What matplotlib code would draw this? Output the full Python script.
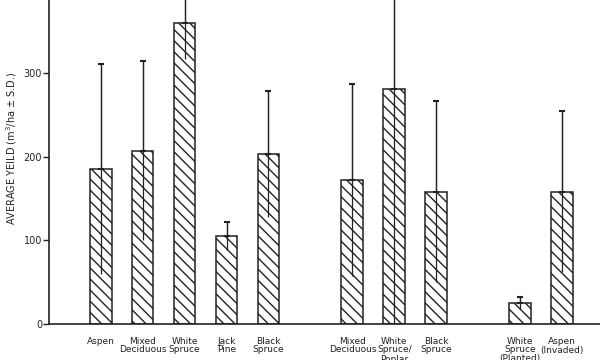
import matplotlib
matplotlib.use('Agg')
from matplotlib import pyplot as plt
import numpy as np

# positions of the bars along the axis (gaps between stand groups)
positions = [0, 1, 2, 3, 4, 6, 7, 8, 10, 11]
labels = ['Aspen', 'Mixed\nDeciduous', 'White\nSpruce', 'Jack\nPine', 'Black\nSpruce',
          'Mixed\nDeciduous', 'White\nSpruce/\nPoplar', 'Black\nSpruce',
          'White\nSpruce\n(Planted)', 'Aspen\n(Invaded)']
yields = [185, 207, 360, 105, 203, 172, 281, 158, 25, 158]
sd = [125, 107, 43, 17, 75, 115, 280, 108, 7, 96]

INK = '#222222'
YLABEL = 'AVERAGE YEILD (m$^3$/ha $\\pm$ S.D.)'

plt.rcParams['hatch.linewidth'] = 1.0
plt.rcParams['hatch.color'] = INK

fig = plt.figure(figsize=(6, 3.6), dpi=100)
ax = fig.add_axes([49 / 600, 36 / 360, 1 - 49 / 600, 1 - 36 / 360])

ax.bar(positions, yields, width=0.52, color='white', edgecolor=INK,
       linewidth=1.1, hatch='\\\\\\', zorder=2)

# full error line without caps, then the upper half again to get the top cap
ax.errorbar(positions, yields, yerr=sd, fmt='none', ecolor=INK,
            elinewidth=0.9, capsize=0, zorder=3)
ax.errorbar(positions, yields, yerr=[np.zeros(len(sd)), sd], fmt='none',
            ecolor=INK, elinewidth=0.9, capsize=2.3, capthick=1.5, zorder=3)

ax.set_xlim(-1.23, 11.9)
ax.set_ylim(0, 387)
ax.set_yticks([0, 100, 200, 300])
ax.set_xticks(positions)
ax.set_xticklabels(labels, fontsize=6.5, linespacing=1.0)
ax.tick_params(axis='x', length=0, pad=9, colors=INK)
ax.tick_params(axis='y', length=4, width=1, pad=1, labelsize=7, colors=INK)

for side in ['top', 'right']:
    ax.spines[side].set_visible(False)
for side in ['left', 'bottom']:
    ax.spines[side].set_color(INK)
    ax.spines[side].set_linewidth(1.2)

fig.text(12 / 600, 1 - 148 / 360, YLABEL, rotation=90, fontsize=7,
         ha='center', va='center', color=INK)

fig.savefig('out.png', dpi=100)
